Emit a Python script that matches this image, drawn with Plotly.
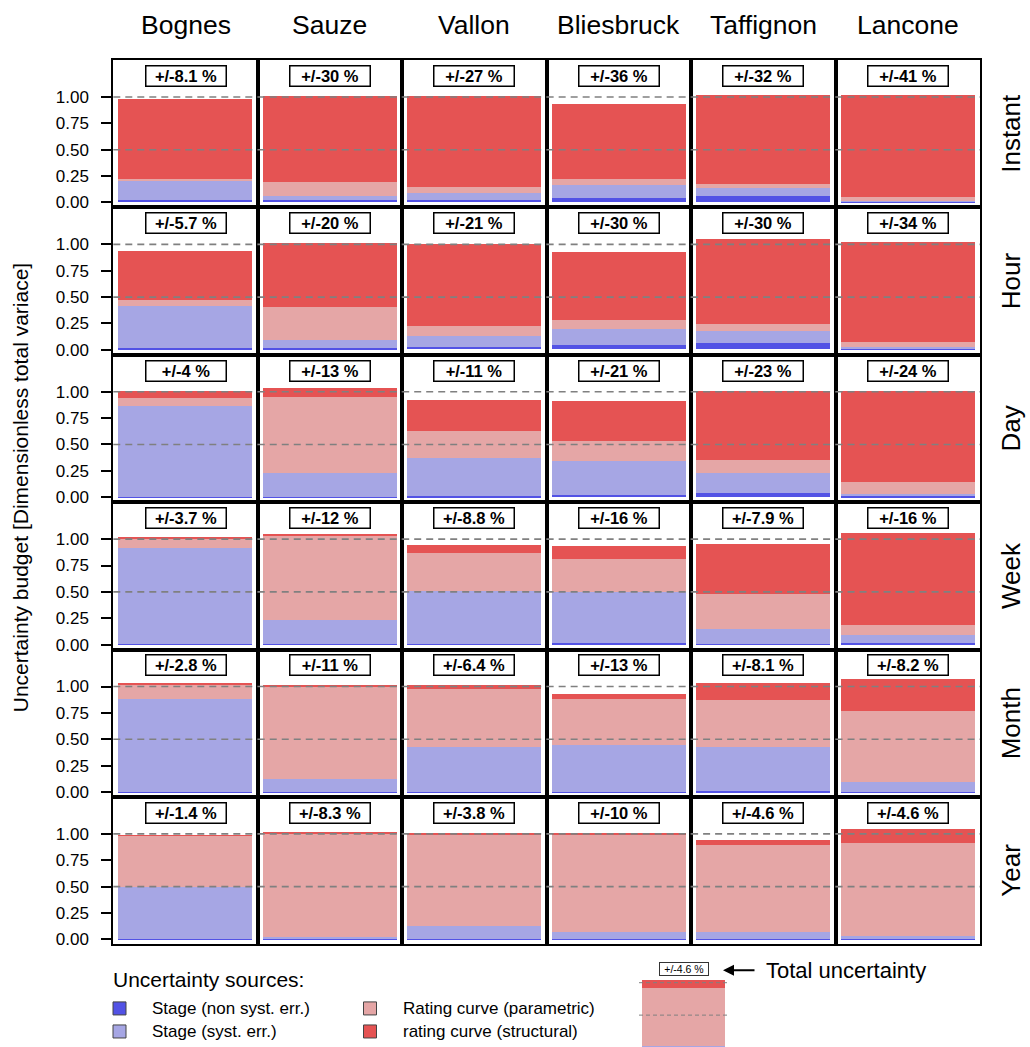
import plotly.graph_objects as go

sites = ["Bognes", "Sauze", "Vallon", "Bliesbruck", "Taffignon", "Lancone"]
scales = ["Instant", "Hour", "Day", "Week", "Month", "Year"]

# rows = scales, cols = sites
stage_nonsyst = [
    [0.020, 0.020, 0.025, 0.045, 0.063, 0.006],
    [0.010, 0.010, 0.025, 0.045, 0.063, 0.010],
    [0.003, 0.003, 0.010, 0.026, 0.045, 0.010],
    [0.005, 0.005, 0.002, 0.010, 0.002, 0.013],
    [0.003, 0.002, 0.002, 0.006, 0.008, 0.006],
    [0.001, 0.001, 0.002, 0.006, 0.006, 0.002],
]
stage_syst = [
    [0.180, 0.040, 0.067, 0.115, 0.077, 0.004],
    [0.405, 0.080, 0.100, 0.150, 0.115, 0.015],
    [0.866, 0.224, 0.360, 0.316, 0.182, 0.025],
    [0.910, 0.224, 0.506, 0.485, 0.141, 0.073],
    [0.883, 0.125, 0.428, 0.443, 0.422, 0.094],
    [0.494, 0.021, 0.125, 0.064, 0.064, 0.030],
]
rc_param = [
    [0.020, 0.130, 0.057, 0.065, 0.038, 0.044],
    [0.050, 0.315, 0.100, 0.085, 0.066, 0.048],
    [0.077, 0.720, 0.260, 0.195, 0.124, 0.115],
    [0.085, 0.800, 0.360, 0.315, 0.333, 0.095],
    [0.133, 0.880, 0.551, 0.437, 0.447, 0.675],
    [0.486, 0.984, 0.867, 0.920, 0.828, 0.885],
]
rc_struct = [
    [0.760, 0.820, 0.857, 0.705, 0.840, 0.965],
    [0.465, 0.600, 0.770, 0.640, 0.800, 0.943],
    [0.067, 0.094, 0.297, 0.380, 0.662, 0.863],
    [0.019, 0.019, 0.076, 0.123, 0.476, 0.876],
    [0.009, 0.007, 0.038, 0.048, 0.161, 0.304],
    [0.006, 0.007, 0.019, 0.010, 0.048, 0.133],
]
total_unc = [
    ["+/-8.1 %", "+/-30 %", "+/-27 %", "+/-36 %", "+/-32 %", "+/-41 %"],
    ["+/-5.7 %", "+/-20 %", "+/-21 %", "+/-30 %", "+/-30 %", "+/-34 %"],
    ["+/-4 %", "+/-13 %", "+/-11 %", "+/-21 %", "+/-23 %", "+/-24 %"],
    ["+/-3.7 %", "+/-12 %", "+/-8.8 %", "+/-16 %", "+/-7.9 %", "+/-16 %"],
    ["+/-2.8 %", "+/-11 %", "+/-6.4 %", "+/-13 %", "+/-8.1 %", "+/-8.2 %"],
    ["+/-1.4 %", "+/-8.3 %", "+/-3.8 %", "+/-10 %", "+/-4.6 %", "+/-4.6 %"],
]
source_names = ["Stage (non syst. err.)", "Stage (syst. err.)",
                "Rating curve (parametric)", "rating curve (structural)"]
colors = ["#5252e5", "#a6a6e4", "#e5a6a6", "#e55353"]
ytick_vals = [0, 0.25, 0.5, 0.75, 1.0]
ytick_text = ["0.00", "0.25", "0.50", "0.75", "1.00"]

W, H_REF, H_FIG = 1030, 1047, 1054
FONT = "Liberation Sans, Arial, sans-serif"

def px(x):
    return x / W

def py(y):
    return 1 - y / H_REF

x_left, col_w = 113.3, 144.45
y_top, row_h = 60.0, 147.1
y_range = [-0.048, 1.35]

fig = go.Figure()
layout = dict(
    width=W, height=H_FIG, autosize=False,
    margin=dict(l=0, r=0, t=0, b=0),
    paper_bgcolor="white", plot_bgcolor="white",
    barmode="stack", showlegend=False, bargap=0,
    font=dict(family=FONT, color="black"),
)
shapes = []
annotations = []

components = [stage_nonsyst, stage_syst, rc_param, rc_struct]

k = 0
for r in range(6):
    for c in range(6):
        k += 1
        xs = "x" if k == 1 else f"x{k}"
        ys = "y" if k == 1 else f"y{k}"
        for comp, col, name in zip(components, colors, source_names):
            fig.add_trace(go.Bar(x=[0], y=[comp[r][c]], marker=dict(color=col, line=dict(width=0)),
                                 width=0.925, name=name, xaxis=xs, yaxis=ys,
                                 hoverinfo="name+y"))
        x0 = x_left + c * col_w
        y0 = y_top + r * row_h
        layout["xaxis" if k == 1 else f"xaxis{k}"] = dict(
            domain=[px(x0), px(x0 + col_w)], anchor=ys, range=[-0.5, 0.5],
            showticklabels=False, ticks="", showgrid=False, zeroline=False,
            showline=True, mirror=True, linecolor="black", linewidth=2, fixedrange=True)
        yax = dict(
            domain=[py(y0 + row_h), py(y0)], anchor=xs, range=y_range,
            showgrid=False, zeroline=False, showline=True, mirror=True,
            linecolor="black", linewidth=2, fixedrange=True)
        if c == 0:
            yax.update(tickvals=ytick_vals, ticktext=ytick_text, ticks="outside",
                       ticklen=10, tickwidth=1.5, tickcolor="black",
                       tickfont=dict(size=17, family=FONT, color="black"),
                       ticklabelstandoff=9)
        else:
            yax.update(showticklabels=False, ticks="")
        layout["yaxis" if k == 1 else f"yaxis{k}"] = yax
        for yv in (0.5, 1.0):
            shapes.append(dict(type="line", xref=f"{xs} domain", yref=ys, x0=0, x1=1,
                               y0=yv, y1=yv, layer="above",
                               line=dict(color="#808080", width=1.6, dash="7px,5px")))
        annotations.append(dict(xref=xs, yref=ys, x=0, y=1.2, text=f"<b>{total_unc[r][c]}</b>",
                                showarrow=False, bgcolor="white", bordercolor="black",
                                borderwidth=1.5, borderpad=1, width=77, height=17,
                                font=dict(size=16.5, family=FONT, color="black"),
                                xanchor="center", yanchor="middle"))

# column titles
for c, s in enumerate(sites):
    annotations.append(dict(xref="paper", yref="paper", x=px(x_left + (c + 0.5) * col_w), y=py(25),
                            text=s, showarrow=False, font=dict(size=26.5, family=FONT),
                            xanchor="center", yanchor="middle"))
# row titles
for r, s in enumerate(scales):
    annotations.append(dict(xref="paper", yref="paper", x=px(1011), y=py(y_top + (r + 0.5) * row_h),
                            text=s, showarrow=False, textangle=-90, font=dict(size=26, family=FONT),
                            xanchor="center", yanchor="middle"))
# y title
annotations.append(dict(xref="paper", yref="paper", x=px(20), y=py(y_top + 3 * row_h - 14),
                        text="Uncertainty budget [Dimensionless total variace]", showarrow=False,
                        textangle=-90, font=dict(size=21, family=FONT),
                        xanchor="center", yanchor="middle"))

# legend (manual)
annotations.append(dict(xref="paper", yref="paper", x=px(111), y=py(978),
                        text="Uncertainty sources:", showarrow=False, font=dict(size=21, family=FONT),
                        xanchor="left", yanchor="middle"))
leg_pos = [(113, 1006.5), (113, 1029.5), (363.5, 1006.5), (363.5, 1029.5)]
for (lx, ly), col, name in zip(leg_pos, colors, source_names):
    shapes.append(dict(type="rect", xref="paper", yref="paper",
                       x0=px(lx), x1=px(lx + 13), y0=py(ly - 6.5), y1=py(ly + 6.5),
                       fillcolor=col, line=dict(color="#444444", width=1)))
    annotations.append(dict(xref="paper", yref="paper", x=px(lx + 37), y=py(ly),
                            text=name, showarrow=False, font=dict(size=17, family=FONT),
                            xanchor="left", yanchor="middle"))

# inset example panel (Lancone, Year)
kk = 37
ex_r, ex_c = 5, 5
for comp, col, name in zip(components, colors, source_names):
    fig.add_trace(go.Bar(x=[0], y=[comp[ex_r][ex_c]], marker=dict(color=col, line=dict(width=0)),
                         width=0.936, name=name, xaxis=f"x{kk}", yaxis=f"y{kk}", hoverinfo="name+y"))
ins_bottom = 1046.5
ins_top = ins_bottom - 1.32 * 64.7
layout[f"xaxis{kk}"] = dict(domain=[px(639), px(728)], anchor=f"y{kk}", range=[-0.5, 0.5],
                            visible=False, fixedrange=True)
layout[f"yaxis{kk}"] = dict(domain=[py(ins_bottom), py(ins_top)], anchor=f"x{kk}",
                            range=[-0.015, 1.305], visible=False, fixedrange=True)
for yv in (0.5, 1.0):
    shapes.append(dict(type="line", xref=f"x{kk} domain", yref=f"y{kk}", x0=0, x1=1,
                       y0=yv, y1=yv, layer="above",
                       line=dict(color="#808080", width=1, dash="4px,3px")))
annotations.append(dict(xref=f"x{kk}", yref=f"y{kk}", x=0, y=1.21, text=total_unc[ex_r][ex_c],
                        showarrow=False, bgcolor="white", bordercolor="#333333",
                        borderwidth=1, borderpad=0.5, width=47, height=11,
                        font=dict(size=10.5, family=FONT), xanchor="center", yanchor="middle"))
annotations.append(dict(xref="paper", yref="paper", x=px(723), y=py(968.3), text="",
                        showarrow=True, ax=33, ay=0, arrowhead=2, arrowsize=1.1,
                        arrowwidth=2, arrowcolor="black"))
annotations.append(dict(xref="paper", yref="paper", x=px(764), y=py(968.3),
                        text="Total uncertainty", showarrow=False, font=dict(size=22, family=FONT),
                        xanchor="left", yanchor="middle"))

layout["shapes"] = shapes
layout["annotations"] = annotations
fig.update_layout(**layout)
fig.write_html(
    "out.html",
    config={"displayModeBar": False},
    post_script=("document.documentElement.style.margin='0';"
                 "document.documentElement.style.overflow='hidden';"
                 "document.body.style.margin='0';document.body.style.padding='0';"
                 "document.body.style.overflow='hidden';"),
)
